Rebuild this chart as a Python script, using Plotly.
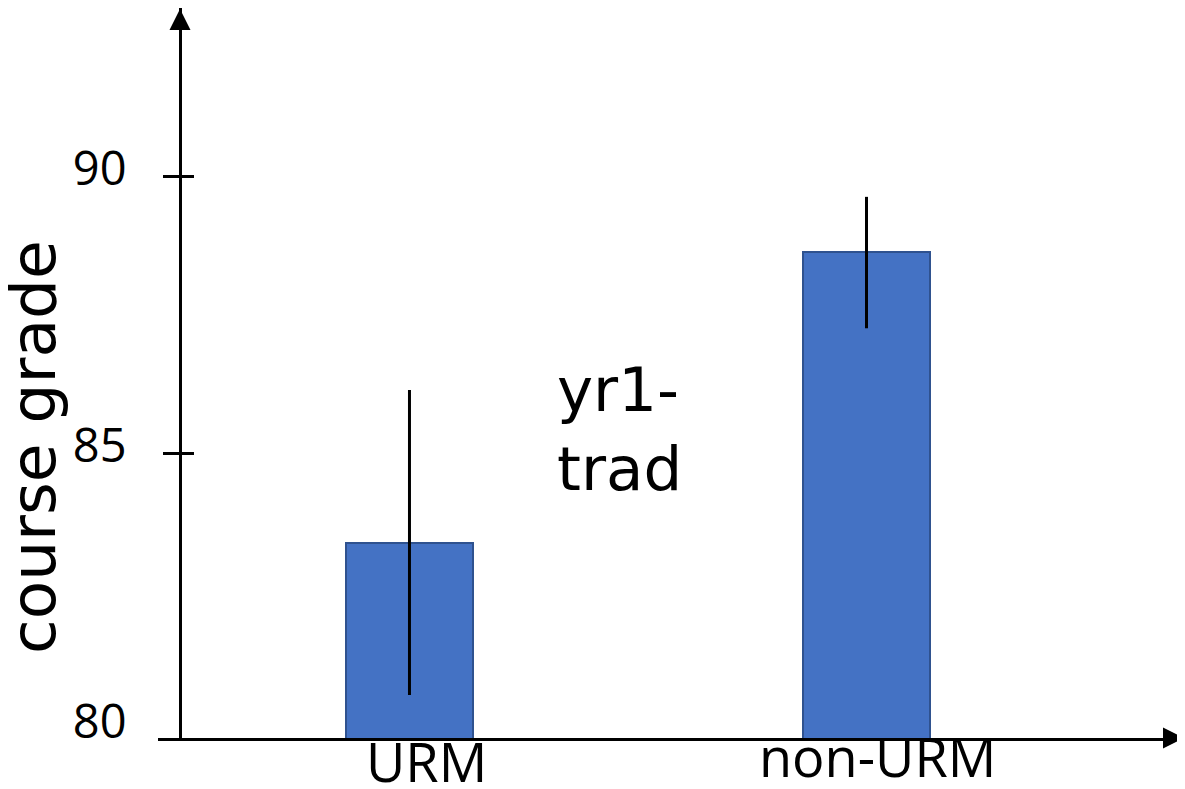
import plotly.graph_objects as go

categories = ["URM", "non-URM"]
grades = [83.37, 88.64]
err_plus = [2.77, 1.00]
err_minus = [2.75, 1.38]
tick_vals = [80, 85, 90]
tick_text = ["80", "85", "90"]
mark_vals = [85, 90]
y_title = "course grade"
note = "yr1-<br>trad"

OFF = 8  # page body offset
W, H = 1185 - OFF, 789 - OFF
L, R, T, B = 158 - OFF, 0, 8 - OFF, 51
pw, ph = W - L - R, H - T - B
axis_pos = (180 - 158) / pw


def py2paper(py):
    return (738 - py) / ph


def px2paper(px):
    return (px - 158) / pw


fig = go.Figure()
fig.add_trace(go.Bar(
    x=categories, y=grades, width=0.278,
    marker=dict(color="#4472C4", line=dict(color="#2F528F", width=2)),
    error_y=dict(type="data", symmetric=False, array=err_plus, arrayminus=err_minus,
                 color="black", thickness=3, width=0),
    showlegend=False, hoverinfo="skip",
))
fig.add_trace(go.Scatter(x=[], y=[], yaxis="y2", showlegend=False))
fig.add_trace(go.Scatter(x=[], y=[], yaxis="y3", showlegend=False))

yr = [79.84, 93.06]
common = dict(range=yr, anchor="free", position=axis_pos, showgrid=False, zeroline=False,
              fixedrange=True)
fig.update_layout(
    width=W, height=H,
    margin=dict(l=L, r=R, t=T, b=B, pad=0),
    paper_bgcolor="white", plot_bgcolor="white",
    xaxis=dict(type="category", range=[-0.5503, 1.697], showline=True, linecolor="black",
               linewidth=3, showticklabels=False, ticks="", showgrid=False, zeroline=False),
    yaxis=dict(**common, showline=True, linecolor="black", linewidth=3,
               tickvals=tick_vals, ticktext=tick_text, ticks="",
               ticklabelshift=-8, ticklabelstandoff=43,
               tickfont=dict(family="Open Sans", size=47, color="black")),
    yaxis2=dict(**common, overlaying="y", showline=False, tickvals=mark_vals,
                showticklabels=False, ticks="outside", ticklen=17, tickwidth=3,
                tickcolor="black"),
    yaxis3=dict(**common, overlaying="y", showline=False, tickvals=mark_vals,
                showticklabels=False, ticks="inside", ticklen=13, tickwidth=3,
                tickcolor="black"),
    bargap=0,
)

anns = []
# axis arrowheads
anns.append(dict(xref="paper", yref="paper", x=axis_pos, y=1, ax=0, ay=20,
                 showarrow=True, arrowhead=2, arrowsize=1.4, arrowwidth=3,
                 arrowcolor="black", text=""))
anns.append(dict(xref="paper", yref="paper", x=1, y=0, ax=-20, ay=0,
                 showarrow=True, arrowhead=2, arrowsize=1.4, arrowwidth=3,
                 arrowcolor="black", text=""))
# category labels
shifts = [(17.5, 761), (11.5, 756)]
for c, (xs, py) in zip(categories, shifts):
    anns.append(dict(xref="x", yref="paper", x=c, y=py2paper(py), xshift=xs,
                     xanchor="center", yanchor="middle", showarrow=False, text=c,
                     font=dict(family="Open Sans", size=54, color="black")))
# y title
anns.append(dict(xref="paper", yref="paper", x=px2paper(33), y=py2paper(447),
                 xanchor="center", yanchor="middle", showarrow=False, text=y_title,
                 textangle=-90, font=dict(family="DejaVu Sans", size=63, color="black")))
# note
anns.append(dict(xref="paper", yref="paper", x=px2paper(555), y=py2paper(429),
                 xanchor="left", yanchor="middle", showarrow=False, text=note, align="left",
                 font=dict(family="DejaVu Sans", size=61, color="black")))
fig.update_layout(annotations=anns)

fig.write_html("out.html")
